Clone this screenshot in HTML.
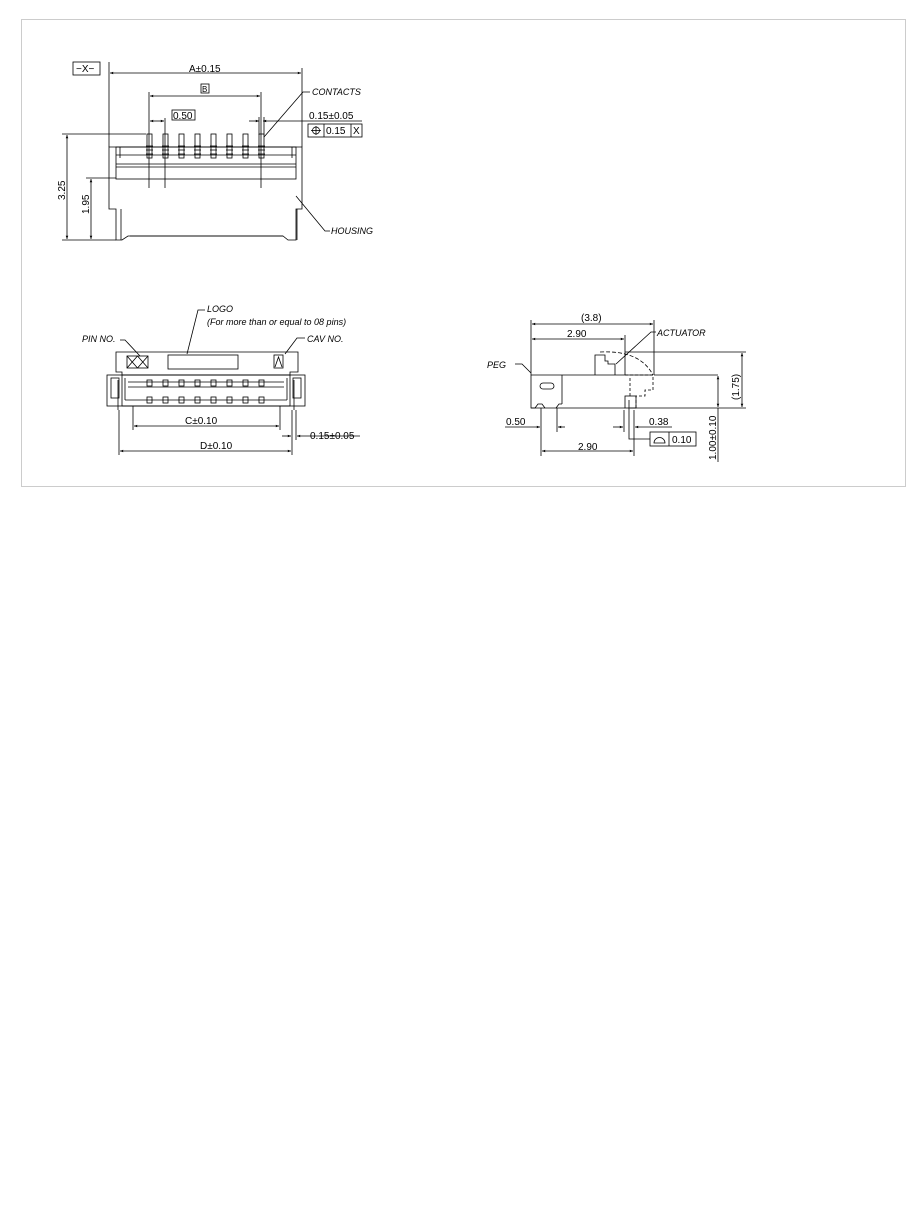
<!DOCTYPE html>
<html><head><meta charset="utf-8"><style>
html,body{margin:0;padding:0;background:#fff;}
svg{display:block;}
text{font-family:"Liberation Sans",sans-serif;font-size:10px;fill:#000;}
.i{font-style:italic;}
</style></head><body>
<svg width="919" height="1221" viewBox="0 0 919 1221" xmlns="http://www.w3.org/2000/svg">
<defs>
<marker id="a" viewBox="0 0 10 10" refX="10" refY="5" markerWidth="6" markerHeight="4" orient="auto-start-reverse"><path d="M0,1 L10,5 L0,9z" fill="#000"/></marker>
</defs>
<rect x="21.5" y="19.5" width="884" height="467" fill="none" stroke="#ccc" stroke-width="1"/>
<g stroke="#000" stroke-width="0.8" fill="none">
<rect x="73" y="62" width="27" height="13"/>
<line x1="109" y1="62" x2="109" y2="147"/><line x1="302" y1="68" x2="302" y2="147"/>
<line x1="110" y1="73" x2="301" y2="73" marker-start="url(#a)" marker-end="url(#a)"/>
<path d="M109,147 H302 V209 H296 V240 H288 L283,236 H128 L122,240 H116 V209 H109 Z"/>
<line x1="121" y1="209" x2="121" y2="240"/><line x1="297" y1="209" x2="297" y2="240"/>
<rect x="116" y="147" width="180" height="32"/>
<line x1="116" y1="155" x2="296" y2="155"/><line x1="116" y1="164" x2="296" y2="164"/><line x1="116" y1="167" x2="296" y2="167"/>
<line x1="120" y1="147" x2="120" y2="158"/><line x1="292" y1="147" x2="292" y2="158"/>
<line x1="130" y1="236" x2="283" y2="236"/>
<line x1="149" y1="92" x2="149" y2="188"/><line x1="261" y1="92" x2="261" y2="188"/><line x1="165" y1="118" x2="165" y2="188"/>
<line x1="150" y1="96" x2="260" y2="96" marker-start="url(#a)" marker-end="url(#a)"/>
<rect x="201" y="84" width="8" height="9"/>
<line x1="150" y1="121" x2="164" y2="121" marker-start="url(#a)" marker-end="url(#a)"/>
<rect x="172" y="110" width="23" height="10"/>
<line x1="249" y1="121" x2="259" y2="121" marker-end="url(#a)"/>
<line x1="263" y1="121" x2="362" y2="121" marker-start="url(#a)"/>
<line x1="259" y1="117" x2="259" y2="135"/><line x1="264" y1="117" x2="264" y2="135"/>
<rect x="308" y="124" width="54" height="13"/><line x1="324" y1="124" x2="324" y2="137"/><line x1="351" y1="124" x2="351" y2="137"/>
<circle cx="316" cy="130.5" r="3.5"/><line x1="311" y1="130.5" x2="321" y2="130.5"/><line x1="316" y1="126" x2="316" y2="135"/>
<g id="c"><rect x="147" y="134" width="5" height="24"/><line x1="146" y1="146" x2="153" y2="146"/><line x1="146" y1="150" x2="153" y2="150"/><line x1="146" y1="154" x2="153" y2="154"/></g>
<use href="#c" x="16"/><use href="#c" x="32"/><use href="#c" x="48"/><use href="#c" x="64"/><use href="#c" x="80"/><use href="#c" x="96"/><use href="#c" x="112"/>
<line x1="62" y1="134" x2="146" y2="134"/><line x1="62" y1="240" x2="116" y2="240"/><line x1="86" y1="178" x2="116" y2="178"/>
<line x1="67" y1="135" x2="67" y2="239" marker-start="url(#a)" marker-end="url(#a)"/>
<line x1="91" y1="179" x2="91" y2="239" marker-start="url(#a)" marker-end="url(#a)"/>
<polyline points="264,137 303,92 310,92"/>
<polyline points="296,196 325,231 330,231"/>
<path d="M116,352 H298 V372 H290 V375 H122 V372 H116 Z"/>
<rect x="107" y="375" width="198" height="31"/>
<rect x="122" y="375" width="168" height="31"/>
<line x1="125" y1="378" x2="125" y2="400"/><line x1="287" y1="378" x2="287" y2="400"/>
<rect x="111" y="378" width="8" height="20"/><rect x="293" y="378" width="8" height="20"/>
<line x1="118" y1="380" x2="118" y2="410"/><line x1="294" y1="380" x2="294" y2="410"/>
<line x1="125" y1="400" x2="287" y2="400"/><line x1="128" y1="387" x2="284" y2="387"/><line x1="128" y1="382" x2="284" y2="382"/>
<rect x="127" y="356" width="21" height="12"/>
<path d="M127,356 L137.5,368 M137.5,356 L127,368 M137.5,356 L148,368 M148,356 L137.5,368"/>
<rect x="168" y="355" width="70" height="14"/>
<rect x="274" y="355" width="9" height="13"/><path d="M275,367 L278.5,357 L282,367"/>
<g id="p"><rect x="147" y="380" width="5" height="6"/><rect x="147" y="397" width="5" height="6"/></g>
<use href="#p" x="16"/><use href="#p" x="32"/><use href="#p" x="48"/><use href="#p" x="64"/><use href="#p" x="80"/><use href="#p" x="96"/><use href="#p" x="112"/>
<polyline points="120,340 125,340 140,356"/>
<polyline points="205,310 198,310 187,354"/>
<polyline points="305,338 297,338 285,354"/>
<line x1="133" y1="406" x2="133" y2="430"/><line x1="280" y1="406" x2="280" y2="430"/>
<line x1="134" y1="426" x2="279" y2="426" marker-start="url(#a)" marker-end="url(#a)"/>
<line x1="119" y1="410" x2="119" y2="455"/><line x1="292" y1="410" x2="292" y2="455"/><line x1="296" y1="410" x2="296" y2="440"/>
<line x1="120" y1="451" x2="291" y2="451" marker-start="url(#a)" marker-end="url(#a)"/>
<line x1="282" y1="436" x2="291" y2="436" marker-end="url(#a)"/>
<line x1="297" y1="436" x2="360" y2="436" marker-start="url(#a)"/>
<line x1="531" y1="320" x2="531" y2="375"/><line x1="654" y1="320" x2="654" y2="375"/><line x1="625" y1="335" x2="625" y2="375"/>
<line x1="532" y1="324" x2="653" y2="324" marker-start="url(#a)" marker-end="url(#a)"/>
<line x1="532" y1="339" x2="624" y2="339" marker-start="url(#a)" marker-end="url(#a)"/>
<path d="M531,375 H653 M531,375 V408 H625"/>
<path d="M531,408 H535 L538,404 H542 L545,408 M556,408 L559,404 H562"/>
<line x1="562" y1="375" x2="562" y2="404"/>
<path d="M543,383 H551 A3,3 0 0 1 551,389 H543 A3,3 0 0 1 543,383"/>
<line x1="654" y1="375" x2="718" y2="375"/><line x1="630" y1="408" x2="746" y2="408"/><line x1="625" y1="352" x2="746" y2="352"/>
<path d="M595,375 V355 H605 V361 H608 V364 H615 V375"/>
<path d="M600,352 Q640,350 653,375" stroke-dasharray="4,2"/>
<path d="M625,375 H653 V390 H645 V396 H636 V408 M630,378 V396" stroke-dasharray="3,2"/>
<rect x="625" y="396" width="11" height="12"/>
<polyline points="515,364 522,364 531,373"/>
<polyline points="616,364 651,332 656,332"/>
<line x1="718" y1="376" x2="718" y2="407" marker-start="url(#a)" marker-end="url(#a)"/>
<line x1="718" y1="408" x2="718" y2="462"/>
<line x1="742" y1="353" x2="742" y2="407" marker-start="url(#a)" marker-end="url(#a)"/>
<line x1="541" y1="408" x2="541" y2="456"/><line x1="557" y1="408" x2="557" y2="432"/>
<line x1="505" y1="427" x2="540" y2="427" marker-end="url(#a)"/><line x1="558" y1="427" x2="565" y2="427" marker-start="url(#a)"/>
<line x1="542" y1="451" x2="633" y2="451" marker-start="url(#a)" marker-end="url(#a)"/>
<line x1="634" y1="410" x2="634" y2="456"/><line x1="624" y1="410" x2="624" y2="432"/>
<line x1="613" y1="427" x2="623" y2="427" marker-end="url(#a)"/><line x1="635" y1="427" x2="672" y2="427" marker-start="url(#a)"/>
<polyline points="629,400 629,439 650,439"/>
<rect x="650" y="432" width="46" height="14"/><line x1="669" y1="432" x2="669" y2="446"/>
<path d="M654,443 H665 A5.5,5.5 0 0 0 654,443 Z"/>
</g>
<text x="76" y="72">−X−</text>
<text x="189" y="72">A±0.15</text>
<text x="202" y="92" style="font-size:8px">B</text>
<text x="173" y="119">0.50</text>
<text x="309" y="119">0.15±0.05</text>
<text x="326" y="134">0.15</text><text x="353" y="134">X</text>
<text x="312" y="95" class="i" style="font-size:9px">CONTACTS</text>
<text x="331" y="234" class="i" style="font-size:9px">HOUSING</text>
<text transform="translate(65,200) rotate(-90)">3.25</text>
<text transform="translate(89,214) rotate(-90)">1.95</text>
<text x="207" y="312" class="i" style="font-size:9px">LOGO</text>
<text x="207" y="325" class="i" style="font-size:9px">(For more than or equal to 08 pins)</text>
<text x="82" y="342" class="i" style="font-size:9px">PIN NO.</text>
<text x="307" y="342" class="i" style="font-size:9px">CAV NO.</text>
<text x="185" y="424">C±0.10</text>
<text x="200" y="449">D±0.10</text>
<text x="310" y="439">0.15±0.05</text>
<text x="581" y="321">(3.8)</text>
<text x="567" y="337">2.90</text>
<text x="657" y="336" class="i" style="font-size:9px">ACTUATOR</text>
<text x="487" y="368" class="i" style="font-size:9px">PEG</text>
<text x="506" y="425">0.50</text>
<text x="649" y="425">0.38</text>
<text x="578" y="450">2.90</text>
<text x="672" y="443">0.10</text>
<text transform="translate(739,400) rotate(-90)">(1.75)</text>
<text transform="translate(716,460) rotate(-90)">1.00±0.10</text>
</svg>
</body></html>
